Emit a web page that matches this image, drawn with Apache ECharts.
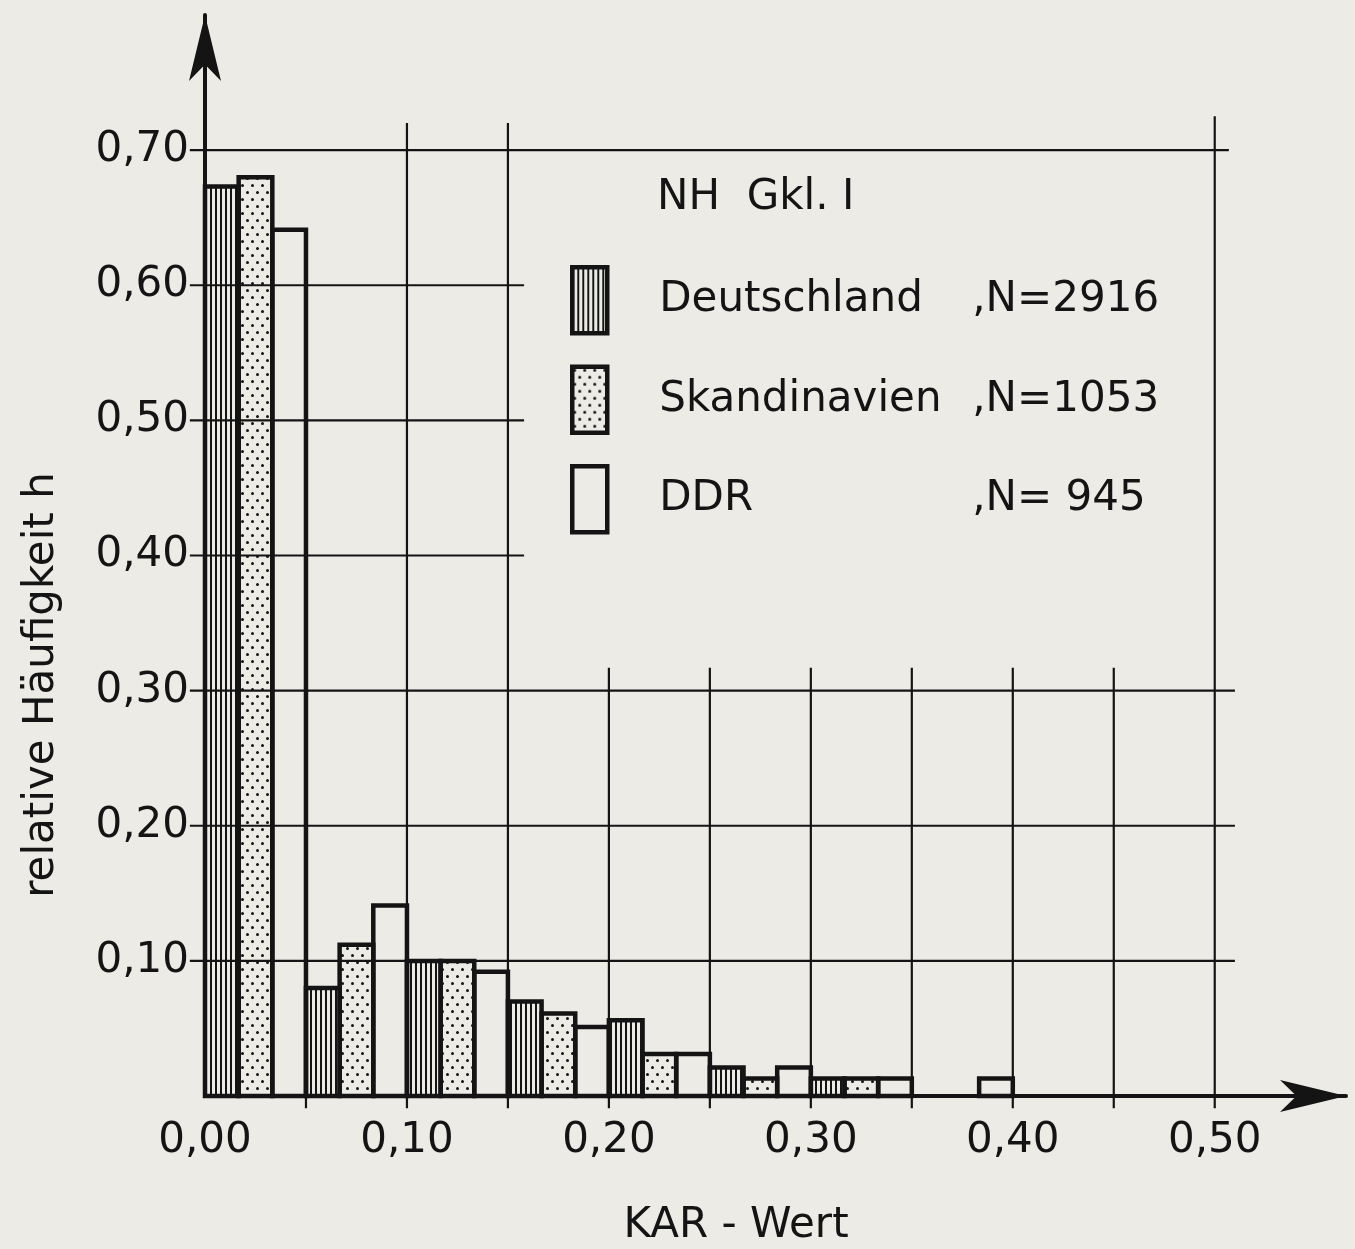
<!DOCTYPE html>
<html>
<head>
<meta charset="utf-8">
<script src="https://cdn.jsdelivr.net/npm/echarts@6/dist/echarts.min.js"></script>
<style>
  html, body { margin: 0; padding: 0; background: #ecebe6; }
  #main { width: 1355px; height: 1249px; }
</style>
</head>
<body>
<div id="main"></div>
<script>
// Klassen (KAR-Wert), Breite 0,05
var binStarts = [0.00, 0.05, 0.10, 0.15, 0.20, 0.25, 0.30, 0.35];
var binWidth = 0.05;

// relative Haeufigkeiten je Klasse
var deutschland  = [0.673, 0.080, 0.100, 0.070, 0.056, 0.021, 0.013, 0];
var skandinavien = [0.680, 0.112, 0.100, 0.061, 0.031, 0.013, 0.013, 0];
var ddr          = [0.641, 0.141, 0.092, 0.051, 0.031, 0.021, 0.013, 0.013];

var seriesNames = ['Deutschland', 'Skandinavien', 'DDR'];
var sampleSizes = ['2916', '1053', ' 945'];

// Gitter: waagerecht [y, xEnde], senkrecht [x, yOben]
var hLines = [[0.10, 0.51], [0.20, 0.51], [0.30, 0.51], [0.40, 0.158], [0.50, 0.158], [0.60, 0.158], [0.70, 0.507]];
var vLines = [[0.05, 0.30], [0.10, 0.72], [0.15, 0.72], [0.20, 0.317], [0.25, 0.317], [0.30, 0.317],
              [0.35, 0.317], [0.40, 0.317], [0.45, 0.317], [0.50, 0.725]];

var ink = '#141414';

function hatchPattern() {
  var c = document.createElement('canvas');
  c.width = 5; c.height = 5;
  var ctx = c.getContext('2d');
  ctx.fillStyle = ink;
  ctx.fillRect(0, 0, 2, 5);
  return { image: c, repeat: 'repeat' };
}
function dotPattern() {
  var c = document.createElement('canvas');
  c.width = 10; c.height = 14;
  var ctx = c.getContext('2d');
  ctx.fillStyle = ink;
  ctx.beginPath(); ctx.arc(2.5, 3.5, 1.5, 0, Math.PI * 2); ctx.fill();
  ctx.beginPath(); ctx.arc(7.5, 10.5, 1.5, 0, Math.PI * 2); ctx.fill();
  return { image: c, repeat: 'repeat' };
}

var fills = [hatchPattern(), dotPattern(), 'rgba(0,0,0,0)'];
var values = [deutschland, skandinavien, ddr];

function fmt(v) { return v.toFixed(2).replace('.', ','); }

var gridSegs = [];
hLines.forEach(function (h) { gridSegs.push([-0.0075, h[0], h[1], h[0]]); });
vLines.forEach(function (v) { gridSegs.push([v[0], -0.009, v[0], v[1]]); });

function barSeries(k) {
  var fill = fills[k];
  return {
    type: 'custom',
    name: seriesNames[k],
    z: 3,
    itemStyle: { color: fill, borderColor: ink, borderWidth: 4.5 },
    encode: { x: [0, 1], y: 2 },
    data: binStarts.map(function (s, i) {
      return [s + k * binWidth / 3, s + (k + 1) * binWidth / 3, values[k][i]];
    }),
    renderItem: function (params, api) {
      if (api.value(2) <= 0) return null;
      var p0 = api.coord([api.value(0), api.value(2)]);
      var p1 = api.coord([api.value(1), 0]);
      return {
        type: 'rect',
        shape: { x: p0[0], y: p0[1], width: p1[0] - p0[0], height: p1[1] - p0[1] },
        style: { fill: fill, stroke: ink, lineWidth: 4.5 }
      };
    }
  };
}

var myChart = echarts.init(document.getElementById('main'));

var option = {
  backgroundColor: '#ecebe6',
  textStyle: { fontFamily: 'DejaVu Sans', color: ink },
  animation: false,
  title: {
    text: 'NH  Gkl. I',
    left: 652, top: 172,
    textStyle: { fontFamily: 'DejaVu Sans', fontSize: 42, fontWeight: 'normal', color: ink }
  },
  legend: {
    orient: 'vertical',
    left: 565, top: 260,
    itemWidth: 35, itemHeight: 66, itemGap: 29,
    icon: 'rect',
    data: seriesNames,
    itemStyle: { borderColor: ink, borderWidth: 4.5 },
    formatter: function (name) {
      var i = seriesNames.indexOf(name);
      return '{n|' + name + '}{v|,N=' + sampleSizes[i] + '}';
    },
    textStyle: {
      padding: [0, 0, 0, 47],
      rich: {
        n: { fontFamily: 'DejaVu Sans', fontSize: 42, color: ink, width: 313 },
        v: { fontFamily: 'DejaVu Sans', fontSize: 42, color: ink }
      }
    }
  },
  grid: { left: 205, right: 9, top: 15, bottom: 153, containLabel: false },
  xAxis: {
    type: 'value',
    min: 0, max: 0.565, interval: 0.1,
    axisLine: {
      show: true, symbol: ['none', 'arrow'], symbolSize: [24, 66],
      lineStyle: { color: ink, width: 4 }
    },
    axisTick: { show: false },
    splitLine: { show: false },
    axisLabel: {
      margin: 24, fontSize: 42, color: ink, fontFamily: 'DejaVu Sans',
      showMaxLabel: false,
      formatter: function (v) { return v > 0.5001 ? '' : fmt(v); }
    }
  },
  yAxis: {
    type: 'value',
    min: 0, max: 0.8, interval: 0.1,
    axisLine: {
      show: true, symbol: ['none', 'arrow'], symbolSize: [24, 66],
      lineStyle: { color: ink, width: 4 }
    },
    axisTick: { show: false },
    splitLine: { show: false },
    axisLabel: {
      margin: 16, fontSize: 42, color: ink, fontFamily: 'DejaVu Sans',
      formatter: function (v) { return (v < 0.05 || v > 0.75) ? '' : fmt(v); }
    }
  },
  graphic: [
    {
      type: 'text', x: 42, y: 685, rotation: Math.PI / 2,
      style: { text: 'relative Häufigkeit h', fill: ink, font: '42px "DejaVu Sans"', align: 'center', verticalAlign: 'middle' }
    },
    {
      type: 'text', x: 736, y: 1226,
      style: { text: 'KAR - Wert', fill: ink, font: '42px "DejaVu Sans"', align: 'center', verticalAlign: 'middle' }
    }
  ],
  series: [
    {
      type: 'custom',
      name: 'gitter',
      silent: true,
      z: 1,
      clip: false,
      encode: { x: [0, 2], y: [1, 3] },
      data: gridSegs,
      renderItem: function (params, api) {
        var a = api.coord([api.value(0), api.value(1)]);
        var b = api.coord([api.value(2), api.value(3)]);
        return {
          type: 'line',
          shape: { x1: a[0], y1: a[1], x2: b[0], y2: b[1] },
          style: { stroke: ink, lineWidth: 2.2 }
        };
      }
    },
    barSeries(0),
    barSeries(1),
    barSeries(2)
  ]
};

myChart.setOption(option);
</script>
</body>
</html>
